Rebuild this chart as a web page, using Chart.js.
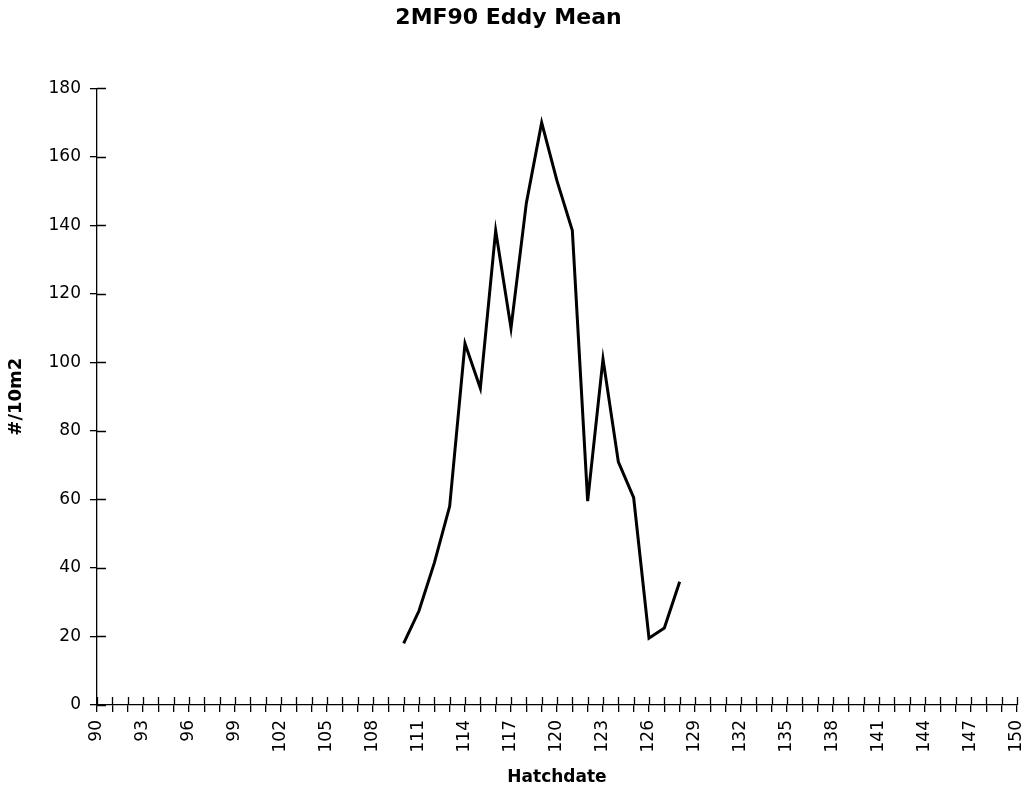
<!DOCTYPE html>
<html>
<head>
<meta charset="utf-8">
<title>2MF90 Eddy Mean</title>
<script src="https://cdn.jsdelivr.net/npm/chart.js@4"></script>
<style>
  html, body { margin: 0; padding: 0; background: #fff; }
  #wrap { width: 1029px; height: 797px; }
</style>
</head>
<body>
<div id="wrap"><canvas id="myChart" width="1029" height="797"></canvas></div>
<script>
// Datos
const hatchdate = [110, 111, 112, 113, 114, 115, 116, 117, 118, 119, 120, 121, 122, 123, 124, 125, 126, 127, 128];
const eddyMean = [18, 27.5, 41.5, 58, 105.5, 92.5, 138.5, 110, 146.5, 170, 153, 138.5, 59.5, 101, 71, 60.5, 19.5, 22.5, 36];

const xMin = 90, xMax = 150, xLabelEvery = 3;
const yTicks = [0, 20, 40, 60, 80, 100, 120, 140, 160, 180];

const tickFont = { family: "DejaVu Sans", size: 17 };
const boldFont = { family: "DejaVu Sans", size: 17, weight: "bold" };

// Marcas de tick hacia dentro del area (cruzan el eje)
const innerTicks = {
  id: "innerTicks",
  afterDraw(chart) {
    const ctx = chart.ctx;
    const x = chart.scales.x;
    const y = chart.scales.y;
    ctx.save();
    ctx.strokeStyle = "#000";
    ctx.lineWidth = 1.3;
    ctx.beginPath();
    x.ticks.forEach((t) => {
      const px = Math.round(x.getPixelForValue(t.value)) + 0.5;
      ctx.moveTo(px, y.bottom);
      ctx.lineTo(px, y.bottom - 8);
    });
    y.ticks.forEach((t) => {
      const py = Math.round(y.getPixelForValue(t.value)) + 0.5;
      ctx.moveTo(x.left, py);
      ctx.lineTo(x.left + 9, py);
    });
    ctx.stroke();
    ctx.restore();
  },
};

const ctx = document.getElementById("myChart").getContext("2d");
const myChart = new Chart(ctx, {
  type: "line",
  data: {
    datasets: [
      {
        label: "Eddy Mean",
        data: hatchdate.map((h, i) => ({ x: h, y: eddyMean[i] })),
        borderColor: "#000",
        borderWidth: 3,
        pointRadius: 0,
        fill: false,
        tension: 0,
      },
    ],
  },
  options: {
    responsive: false,
    animation: false,
    layout: { padding: { left: 0, right: 12, top: 0, bottom: 0 } },
    plugins: {
      legend: { display: false },
      tooltip: { enabled: false },
      title: {
        display: true,
        text: "2MF90 Eddy Mean",
        color: "#000",
        font: { family: "DejaVu Sans", size: 22, weight: "bold" },
        padding: { top: 5, bottom: 57 },
      },
    },
    scales: {
      x: {
        type: "linear",
        min: xMin,
        max: xMax,
        afterFit: (scale) => {
          scale.height = 92;
          scale.paddingLeft = 0;
          scale.paddingRight = 0;
        },
        ticks: {
          stepSize: 1,
          autoSkip: false,
          minRotation: 90,
          maxRotation: 90,
          padding: 8,
          color: "#000",
          font: tickFont,
          callback: function (value) {
            return (value - xMin) % xLabelEvery === 0 ? String(value) : "";
          },
        },
        grid: { drawOnChartArea: false, drawTicks: true, tickLength: 7, color: "#000", lineWidth: 1.3 },
        border: { display: true, color: "#000", width: 1.3 },
        title: {
          display: true,
          text: "Hatchdate",
          color: "#000",
          font: boldFont,
          padding: { top: 0, bottom: 9 },
        },
      },
      y: {
        min: 0,
        max: 180,
        afterFit: (scale) => { scale.width = 97; },
        afterBuildTicks: (scale) => {
          scale.ticks = yTicks.map((v) => ({ value: v }));
        },
        ticks: { padding: 9, color: "#000", font: tickFont },
        grid: { drawOnChartArea: false, drawTicks: true, tickLength: 7, color: "#000", lineWidth: 1.3 },
        border: { display: true, color: "#000", width: 1.3 },
        title: {
          display: true,
          text: "#/10m2",
          color: "#000",
          font: { family: "DejaVu Sans", size: 18, weight: "bold" },
          padding: { top: 6, bottom: 0 },
        },
      },
    },
  },
  plugins: [innerTicks],
});
</script>
</body>
</html>
